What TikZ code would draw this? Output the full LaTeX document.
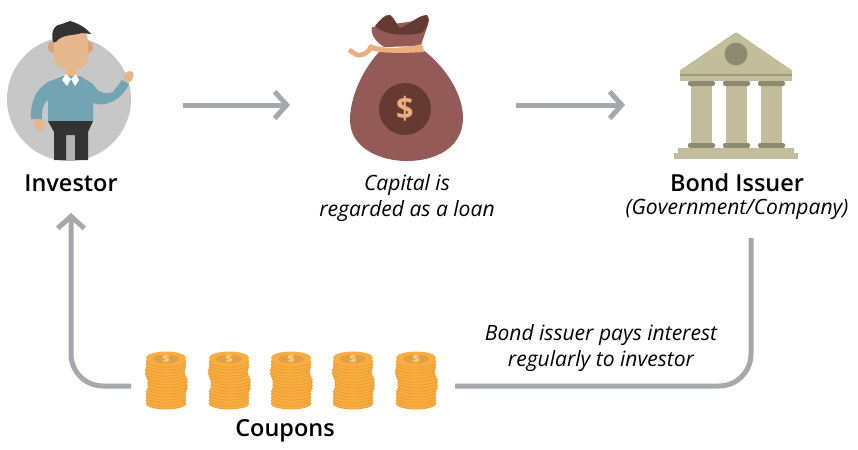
\documentclass[tikz,border=0pt]{standalone}
\usepackage{fontspec}
\setmainfont{Open Sans}
\newfontfamily\headfont{Open Sans Semibold}
\usetikzlibrary{arrows.meta}
\definecolor{flowgray}{HTML}{A6A8AB}
\definecolor{skin}{HTML}{E6B68C}
\definecolor{skindark}{HTML}{D8A27C}
\definecolor{sweater}{HTML}{73A4B3}
\definecolor{bagred}{HTML}{945A58}
\definecolor{bagdark}{HTML}{643A33}
\definecolor{rope}{HTML}{ECAE7E}
\definecolor{stone}{HTML}{C2BD9B}
\definecolor{stonedark}{HTML}{8C8B70}
\definecolor{coin}{HTML}{FBAE3F}
\definecolor{coinline}{HTML}{E89C33}
\definecolor{coinface}{HTML}{E2A045}
\definecolor{coinsign}{HTML}{FBD581}
\tikzset{
    every node/.style={align=center,inner sep=0pt,},
    flowline/.style={draw=flowgray,line width=3.75pt,},
    flowarrow/.style={flowline,-{Straight Barb[length=9pt,width=20pt,line width=3.75pt]},},
    heading/.style={font=\headfont\fontsize{17.6}{20}\selectfont,},
    remark/.style={font=\itshape\fontsize{15.8}{19}\selectfont,},
    icon/.style={rectangle,minimum height=90pt,},
}

\begin{document}
\begin{tikzpicture}[x=.75pt,y=-.75pt]
        \useasboundingbox (0,0) rectangle (858,450);

        % investor
        \fill[black!22] (69,99) circle[radius=62];
        \fill[black!30] (66,121) rectangle (75,161);
        \fill[skindark] (53,47) ellipse[x radius=5,y radius=6];
        \fill[skindark] (88,47) ellipse[x radius=5,y radius=6];
        \fill[skin,rounded corners=6pt] (66,60) rectangle (77,84);
        \fill[skin,rounded corners=9pt] (54,28) rectangle (88,69);
        \fill[black!80] (53,42) .. controls (50,30) and (56,24) .. (62,24) -- (70,21)
            .. controls (80,24) and (86,28) .. (91,34) -- (82,33) .. controls (72,36) and (62,34) .. (56,42) -- cycle;
        \fill[sweater] (48,121) -- (48,82) -- (63,76) -- (80,76) -- (93,84)
            .. controls (97,92) and (105,95) .. (113,92) -- (122,80) -- (129,84)
            .. controls (122,100) and (105,108) .. (93,103) -- (93,121) -- cycle;
        \fill[sweater] (50,81) .. controls (36,88) and (30,102) .. (31,119) -- (42,120)
            .. controls (41,110) and (44,102) .. (50,98) -- cycle;
        \fill[white] (62,80) -- (66,74) -- (71,79) -- (67,86) -- cycle;
        \fill[white] (79,80) -- (76,74) -- (71,79) -- (75,86) -- cycle;
        \fill[skin,rounded corners=3pt] (32,120) -- (42,118) -- (46,129) -- (38,132) -- cycle;
        \fill[skin,rounded corners=3pt] (122,78) -- (126,71) -- (134,71) -- (133,79) -- (129,84) -- cycle;
        \fill[black!80] (48,121) -- (93,121) -- (88,132) -- (88,160) -- (75,160) -- (75,135)
            -- (66,135) -- (66,160) -- (54,160) -- (54,132) -- cycle;

        % money bag
        \fill[bagred] (383,48) .. controls (365,65) and (350,95) .. (350,120)
            .. controls (350,148) and (380,161) .. (407,161)
            .. controls (435,161) and (463,148) .. (463,118)
            .. controls (463,90) and (440,62) .. (423,50) -- cycle;
        \fill[bagred] (384,47) .. controls (376,42) and (370,34) .. (372,27)
            -- (429,19) .. controls (427,30) and (422,40) .. (421,46) -- cycle;
        \fill[bagdark] (375,26) .. controls (380,20) and (385,14) .. (390,15)
            .. controls (394,17) and (396,24) .. (400,28)
            .. controls (408,26) and (418,15) .. (427,15)
            .. controls (431,18) and (428,28) .. (421,33)
            .. controls (408,36) and (385,36) .. (375,26) -- cycle;
        \draw[rope,line width=3.5pt] (349,50) -- (357,55) .. controls (363,56) and (370,52) .. (371,46);
        \fill[rope] (370,44) .. controls (385,50) and (405,48) .. (422,44) -- (424,52)
            .. controls (408,53) and (385,54) .. (370,50) -- cycle;
        \node[icon,minimum width=85.5pt] (bag) at (407,105) {};
        \fill[bagdark] (405,109) circle[radius=26];
        \node[text=rope,font=\bfseries\fontsize{23}{23}\selectfont] (dollar) at (405,109) {\$};

        % bond issuer
        \fill[stone,rounded corners=1pt] (736,32) -- (793,71) -- (679,71) -- cycle;
        \fill[stonedark] (736,54) circle[radius=11.5];
        \fill[stone] (680,71) rectangle (792,81);
        \fill[stonedark!70!stone] (680,74) rectangle (792,76);
        \foreach \xpos in {691,726,761} {
            \fill[stone] (\xpos,84) rectangle ++(21,60);
            \fill[stonedark,rounded corners=1.5pt] (\xpos-3,81) rectangle ++(27,5);
            \fill[stonedark,rounded corners=1.5pt] (\xpos-3,143) rectangle ++(27,5);
        }
        \fill[stone] (678,148) rectangle (794,153);
        \fill[stone] (674,153) rectangle (798,159);
        \node[icon,minimum width=84pt] (issuer) at (736,105) {};

        % coupons
        \foreach \i/\xpos in {1/166,2/229,3/291,4/353,5/416} {
            \foreach \ypos/\shift in {403/0,400/0,397/0,394/0,391/0,388/1.5,385/1.5,382/1.5,379/1.5,376/0,373/-1,370/-1,367/0,364/0,361/0} {
                \fill[coin] (\xpos+\shift,\ypos) ellipse[x radius=20,y radius=6];
                \draw[coinline,line width=.6pt] (\xpos+\shift-20,\ypos) arc[start angle=180,end angle=0,x radius=20,y radius=6];
            }
            \fill[coin] (\xpos,358) ellipse[x radius=20,y radius=6.5];
            \fill[coinface] (\xpos,359) ellipse[x radius=13,y radius=4.5];
            \node[text=coinsign,font=\bfseries\fontsize{7.5}{7.5}\selectfont,xscale=1.3] (coin\i) at (\xpos,359) {\$};
        }

        \node[heading] (investor_label) at (71,183) {Investor};
        \node[remark] (capital_label) at (407,198) {Capital is\\regarded as a loan};
        \node[heading] (issuer_label) at (737,183) {Bond Issuer};
        \node[remark] (issuer_sub) at (737,209) {(Government/Company)};
        \node[remark] (interest_label) at (601,348) {Bond issuer pays interest\\regularly to investor};
        \node[heading] (coupons_label) at (285,431) {Coupons};

        \coordinate (issuer_out) at (751,238);
        \coordinate (coins_in) at (455,386);
        \coordinate (coins_out) at (131,386);
        \coordinate (investor_in) at (71,213);
        \coordinate (investor_out) at (131,105);

        \draw[flowarrow,shorten <=39pt] (investor_out) to (290,105);
        \draw[flowarrow,shorten <=39pt,shorten >=41pt] (bag.east) to (issuer.west);
        \draw[flowline,rounded corners=24pt] (issuer_out) -- (issuer_out |- coins_in) -- (coins_in);
        \draw[flowarrow,rounded corners=24pt] (coins_out) -- (investor_in |- coins_out) -- (investor_in);
    \end{tikzpicture}
\end{document}
